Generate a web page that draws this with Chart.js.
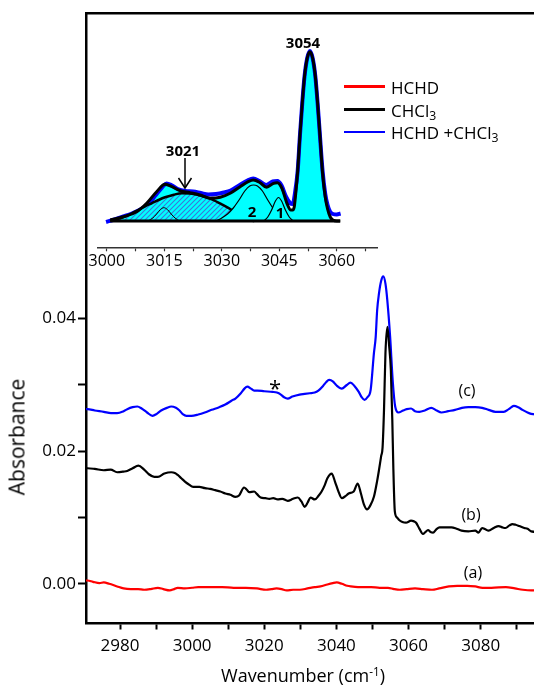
<!DOCTYPE html>
<html><head><meta charset="utf-8">
<script src="https://cdn.jsdelivr.net/npm/chart.js@4.4.0/dist/chart.umd.min.js"></script>
<style>
html,body{margin:0;padding:0;overflow:hidden;background:#fff;width:534px;height:687px;}
#wrap{position:relative;width:534px;height:687px;overflow:hidden;}
canvas{position:absolute;left:0;top:0;}
.t{position:absolute;font-family:'Open Sans',sans-serif;color:#000;white-space:nowrap;line-height:1;transform:translate(-50%,-50%);}
.lg{position:absolute;height:2.5px;width:41px;left:344px;}
.lt{position:absolute;left:391px;font-family:'Open Sans',sans-serif;font-size:17px;line-height:1;transform:translateY(-50%);white-space:nowrap;}
sub{font-size:0.72em;vertical-align:-0.3em;line-height:0;}
</style></head>
<body><div id="wrap">
<canvas id="main" width="540" height="687" style="width:540px;height:687px"></canvas>
<canvas id="inset" width="534" height="687" style="width:534px;height:687px"></canvas>

<div class="t" style="left:17px;top:437px;font-size:21px;transform:translate(-50%,-50%) rotate(-90deg);">Absorbance</div>
<div class="t" style="left:303px;top:675px;font-size:18px;">Wavenumber (cm<sup style="font-size:0.65em;vertical-align:0.55em;line-height:0">-1</sup>)</div>

<div class="t" style="left:467px;top:390px;font-size:16px;">(c)</div>
<div class="t" style="left:471px;top:514px;font-size:16px;">(b)</div>
<div class="t" style="left:473px;top:572px;font-size:16px;">(a)</div>
<div class="t" style="left:275px;top:387px;font-size:22px;">*</div>

<div class="lg" style="top:85px;background:#ff0000"></div>
<div class="lg" style="top:108px;background:#000"></div>
<div class="lg" style="top:130.5px;background:#0000ff"></div>
<div class="lt" style="top:87px">HCHD</div>
<div class="lt" style="top:110px">CHCl<sub>3</sub></div>
<div class="lt" style="top:132px">HCHD +CHCl<sub>3</sub></div>

<div class="t" style="left:303px;top:42px;font-size:15px;font-weight:700;">3054</div>
<div class="t" style="left:183px;top:150px;font-size:15px;font-weight:700;">3021</div>
<div class="t" style="left:252px;top:211px;font-size:15px;font-weight:700;">2</div>
<div class="t" style="left:280px;top:212px;font-size:15px;font-weight:700;">1</div>
<svg style="position:absolute;left:175px;top:155px" width="20" height="40"><line x1="10" y1="3" x2="10" y2="33" stroke="#000" stroke-width="1.5"/><polyline points="3.5,23 10,33 16.5,23" fill="none" stroke="#000" stroke-width="1.5"/></svg>
</div>
<script>
// ---------- main chart data (wavenumber, absorbance) ----------
const seriesA_HCHD = [[2970.5,.0005],[2971,.0005],[2972.5,.0003],[2974.3,.0001],[2975.5,.0002],[2977,.0000],[2979.2,-.0004],[2981,-.0007],[2983,-.0008],[2985,-.0008],[2986.7,-.0009],[2988.5,-.0008],[2990.5,-.0006],[2992,-.0008],[2993.8,-.0010],[2995,-.0008],[2996,-.0006],[2998,-.0007],[3000,-.0006],[3001.7,-.0005],[3005,-.0005],[3008.3,-.0005],[3011.5,-.0006],[3014.9,-.0006],[3018,-.0007],[3020.5,-.0009],[3022,-.0008],[3023.4,-.0007],[3024.8,-.0008],[3026.2,-.0010],[3028,-.0009],[3029.9,-.0009],[3032,-.0007],[3034,-.0005],[3035.6,-.0004],[3037.5,-.0001],[3039,.0001],[3040.1,.0002],[3041.5,.0000],[3043,-.0003],[3044,-.0004],[3046,-.0005],[3049.6,-.0005],[3052,-.0006],[3054.3,-.0006],[3056,-.0008],[3057.6,-.0009],[3059.5,-.0008],[3061.8,-.0007],[3064,-.0008],[3066.5,-.0009],[3068.5,-.0007],[3071.2,-.0004],[3073.5,-.0003],[3076.3,-.0003],[3078.5,-.0004],[3080.5,-.0006],[3083,-.0006],[3087,-.0005],[3089.5,-.0007],[3091.7,-.0009],[3094,-.0010],[3098.3,-.0010]];
const seriesB_CHCl3 = [[2970.5,.0174],[2971,.0174],[2973,.0173],[2975.5,.0171],[2977.4,.0172],[2979.2,.0168],[2981,.0169],[2982,.0170],[2983.5,.0174],[2985.1,.0178],[2986.7,.0172],[2988,.0165],[2989.5,.0161],[2990.5,.0161],[2992.3,.0166],[2994.2,.0168],[2995.2,.0167],[2996,.0164],[2997,.0159],[2998,.0154],[2999,.0150],[3000.3,.0146],[3002,.0146],[3003.6,.0144],[3005,.0143],[3006.4,.0141],[3007.8,.0139],[3009.2,.0136],[3010.6,.0134],[3012,.0131],[3013,.0133],[3014.4,.0145],[3015.1,.0142],[3015.8,.0138],[3017.2,.0139],[3018,.0135],[3019,.0130],[3020.3,.0129],[3021.4,.0128],[3022.5,.0129],[3023.7,.0127],[3025,.0128],[3026.5,.0125],[3028,.0128],[3029.3,.0130],[3030.3,.0124],[3031.2,.0116],[3032,.0122],[3032.8,.0130],[3034,.0127],[3035.1,.0133],[3035.9,.0139],[3036.8,.0149],[3037.5,.0159],[3038.7,.0166],[3039.6,.0154],[3040.5,.0140],[3041.5,.0129],[3042.5,.0132],[3043.4,.0136],[3044.8,.0139],[3045.9,.0151],[3046.8,.0136],[3047.6,.0120],[3048.5,.0112],[3049.4,.0118],[3050.4,.0131],[3051.3,.0155],[3051.8,.0171],[3052.4,.0192],[3052.8,.0205],[3053.2,.0262],[3053.6,.0347],[3054.15,.0387],[3054.6,.0360],[3055.1,.0322],[3055.5,.0247],[3055.8,.0172],[3056.2,.0109],[3056.8,.0100],[3057.4,.0096],[3058.3,.0093],[3059.3,.0092],[3060.7,.0095],[3061.5,.0094],[3062.1,.0092],[3063,.0083],[3064,.0075],[3064.7,.0078],[3065.4,.0081],[3066.1,.0078],[3066.8,.0077],[3067.7,.0082],[3068.6,.0085],[3070.2,.0085],[3071.9,.0085],[3073.3,.0083],[3074.7,.0080],[3076.6,.0079],[3078.5,.0080],[3079.4,.0077],[3080.4,.0084],[3081.3,.0082],[3082.2,.0080],[3083.6,.0084],[3085,.0087],[3086,.0085],[3086.9,.0084],[3088,.0088],[3088.8,.0090],[3089.7,.0089],[3090.7,.0087],[3092.1,.0084],[3093,.0083],[3094,.0079],[3096,.0078],[3098.3,.0077]];
const seriesC_mix = [[2970.5,.0263],[2971,.0263],[2973,.0261],[2975.5,.0259],[2977.5,.0257],[2979.2,.0257],[2981,.0260],[2982,.0263],[2983.5,.0266],[2984.8,.0267],[2986,.0264],[2987.5,.0258],[2989,.0253],[2990.2,.0256],[2991.4,.0261],[2993,.0265],[2994.2,.0267],[2995.5,.0265],[2996.5,.0261],[2997.5,.0255],[2998.4,.0253],[2999.8,.0253],[3001.7,.0255],[3003.5,.0258],[3005.4,.0262],[3007.5,.0266],[3009.2,.0270],[3011,.0276],[3012,.0279],[3013.5,.0287],[3014.5,.0294],[3015.3,.0297],[3016.3,.0294],[3017.2,.0291],[3018.1,.0291],[3020,.0290],[3022.3,.0289],[3023.5,.0288],[3024.6,.0285],[3025.5,.0281],[3026.5,.0279],[3027.8,.0282],[3029.8,.0285],[3031.2,.0286],[3032.6,.0287],[3034,.0288],[3035,.0291],[3036.3,.0298],[3037.2,.0304],[3038,.0307],[3039,.0305],[3040,.0299],[3041.5,.0294],[3042.8,.0299],[3043.9,.0303],[3045,.0298],[3046.2,.0289],[3047,.0281],[3047.8,.0277],[3048.6,.0281],[3049.5,.0292],[3050.4,.0347],[3050.9,.0372],[3051.3,.0412],[3051.8,.0437],[3052.4,.0456],[3053,.0463],[3053.6,.0452],[3054.1,.0428],[3054.9,.0372],[3055.6,.0307],[3056.3,.0267],[3057.2,.0258],[3058.5,.0261],[3059.5,.0263],[3060.7,.0264],[3061.8,.0260],[3063,.0259],[3064.5,.0261],[3066.3,.0265],[3067.8,.0261],[3069.1,.0258],[3071,.0260],[3072.9,.0262],[3074.8,.0265],[3076.6,.0266],[3078.5,.0266],[3080.4,.0265],[3082.2,.0262],[3084.1,.0259],[3086.4,.0259],[3087.8,.0263],[3089.2,.0268],[3090.4,.0266],[3091.6,.0262],[3093,.0258],[3094,.0256],[3096,.0255],[3098.3,.0253]];
const xTickValues = [2980,2990,3000,3010,3020,3030,3040,3050,3060,3070,3080,3090];
const xTickLabels = ['2980','','3000','','3020','','3040','','3060','','3080',''];
const yTickValues = [0,0.01,0.02,0.03,0.04];
const yTickLabels = ['0.00','','0.02','','0.04'];

// ---------- inset data (wavenumber, relative intensity) ----------
const insetMeasured = [[2999.8,-1],[3002,1.5],[3004.3,4.5],[3006.5,7.5],[3008.5,11],[3010.5,16],[3012.8,26],[3014.6,34.5],[3015.6,37.5],[3016.8,36],[3018.5,32],[3020.5,30],[3022.5,29.5],[3024.5,28],[3026.5,26.5],[3028.5,27],[3030.5,28.5],[3032.3,30.5],[3034.5,35.5],[3036.7,40.5],[3038.2,42.5],[3039.8,40],[3041.6,36],[3043.3,39.5],[3044.5,40],[3045.6,35.5],[3046.8,24],[3047.8,18],[3048.5,17],[3049.1,28],[3049.8,50],[3050.4,86],[3051,118],[3051.6,145],[3052.3,163],[3053,170],[3053.7,163],[3054.4,145],[3055,118],[3055.6,86],[3056.3,50],[3057,27],[3057.6,16],[3058.3,9],[3059,7],[3060,6.5],[3061,7.5]];
const insetEnvelope = [[3000.9,1],[3004.3,4.3],[3007.8,9.3],[3010.4,17.7],[3013,29.3],[3015.2,36.7],[3017,34.3],[3019.1,30.3],[3021.7,28.3],[3024.3,26],[3027,22.7],[3029.6,23.7],[3032.2,27.7],[3034.8,34.3],[3036.9,39.3],[3038.2,41],[3040,38.3],[3041.7,33.7],[3043.5,37.7],[3044.5,38.3],[3045.7,32.7],[3047,17.7],[3048,11],[3048.5,11],[3048.9,14],[3049.3,28],[3049.8,50],[3050.4,86],[3051,118],[3051.6,145],[3052.3,163],[3053,169.3],[3053.7,163],[3054.4,145],[3055,118],[3055.6,86],[3056.3,48],[3057,24],[3057.6,12],[3058.3,4],[3059,1],[3060,0],[3060.9,0]];
const insetBroad3021 = [[3000.9,0],[3003,2.2],[3004.8,4.3],[3006.5,7.5],[3008.2,11],[3010,14.7],[3011.7,17.7],[3013.5,21],[3015.2,23.7],[3017.5,26.3],[3019.6,27.7],[3021.8,27.5],[3023.9,26],[3025.7,24],[3027.4,21.7],[3030,16.7],[3032.6,11],[3034,7],[3035.5,3.5],[3037,1],[3038.5,0]];
const insetSmall3015 = [[3010.8,0],[3012,3],[3013,7],[3014,11.5],[3014.9,13.3],[3015.8,11.5],[3016.8,7],[3017.8,3],[3019,0]];
const insetBand2 = [[3028.5,0],[3030,3],[3031.5,7],[3033,13],[3034.5,21],[3036,30],[3037.3,35],[3038.3,36],[3039.3,35],[3040.6,30],[3042,21],[3043.5,12],[3045,6],[3046.5,2],[3048,0]];
const insetBand1 = [[3041,0],[3042,4],[3043,11],[3044,20],[3044.8,23.5],[3045.6,20],[3046.6,11],[3047.6,4],[3048.6,0]];
const insetBaseline = [[3000.9,0],[3060.9,0]];
const insetTickValues = [3000,3007.5,3015,3022.5,3030,3037.5,3045,3052.5,3060,3067.5];
const insetTickLabels = ['3000','','3015','','3030','','3045','','3060',''];

const pts = arr => arr.map(p => ({x:p[0], y:p[1]}));
const FONT = "'Open Sans', sans-serif";

new Chart(document.getElementById('main'), {
  type:'line',
  data:{datasets:[
    {label:'HCHD', data:pts(seriesA_HCHD), borderColor:'#ff0000'},
    {label:'CHCl3', data:pts(seriesB_CHCl3), borderColor:'#000000'},
    {label:'HCHD +CHCl3', data:pts(seriesC_mix), borderColor:'#0000ff'}
  ]},
  options:{
    responsive:false, animation:false, events:[],
    layout:{padding:{top:13,left:0,right:2,bottom:0}},
    plugins:{legend:{display:false}, tooltip:{enabled:false}},
    elements:{point:{radius:0}, line:{borderWidth:2.2, cubicInterpolationMode:'monotone', fill:false}},
    scales:{
      x:{type:'linear', position:'bottom', min:2970.57, max:3095.9,
        afterFit:s=>{s.height=63.5;},
        afterBuildTicks:s=>{s.ticks=xTickValues.map(v=>({value:v}));},
        ticks:{callback:(v,i)=>xTickLabels[i], font:{family:FONT,size:17}, color:'#000', padding:6, maxRotation:0, autoSkip:false},
        grid:{drawOnChartArea:false, drawTicks:true, tickLength:6, tickWidth:2, tickColor:'#000'},
        border:{display:true, color:'#000', width:2.5}},
      xTop:{type:'linear', position:'top', min:2970.57, max:3095.9,
        afterFit:s=>{s.height=0;},
        ticks:{display:false}, grid:{display:false, drawTicks:false},
        border:{display:true, color:'#000', width:2.5}},
      y:{type:'linear', position:'left', min:-0.00598, max:0.08597,
        afterFit:s=>{s.width=86;},
        afterBuildTicks:s=>{s.ticks=yTickValues.map(v=>({value:v}));},
        ticks:{callback:(v,i)=>yTickLabels[i], font:{family:FONT,size:17}, color:'#000', padding:2},
        grid:{drawOnChartArea:false, drawTicks:true, tickLength:8, tickWidth:2, tickColor:'#000'},
        border:{display:true, color:'#000', width:2.5}}
    }
  }
});

function hatchPattern(){
  const c=document.createElement('canvas'); c.width=5; c.height=5;
  const g=c.getContext('2d');
  g.fillStyle='#00ffff'; g.fillRect(0,0,5,5);
  g.strokeStyle='#3a78d8'; g.lineWidth=1.1;
  g.beginPath(); g.moveTo(0,5); g.lineTo(5,0); g.moveTo(-1,1); g.lineTo(1,-1); g.moveTo(4,6); g.lineTo(6,4); g.stroke();
  return g.createPattern(c,'repeat');
}
const CYAN='#00ffff';
new Chart(document.getElementById('inset'), {
  type:'line',
  data:{datasets:[
    {label:'baseline', data:pts(insetBaseline), borderColor:'#000', borderWidth:3, order:0},
    {label:'fit envelope', data:pts(insetEnvelope), borderColor:'#000', borderWidth:3, order:1},
    {label:'band 1', data:pts(insetBand1), borderColor:'#000', borderWidth:1.2, fill:'origin', backgroundColor:CYAN, order:2},
    {label:'band 2', data:pts(insetBand2), borderColor:'#000', borderWidth:1.2, fill:'origin', backgroundColor:CYAN, order:3},
    {label:'band 3015', data:pts(insetSmall3015), borderColor:'#000', borderWidth:1, order:4},
    {label:'band 3021', data:pts(insetBroad3021), borderColor:'#000', borderWidth:2.5, fill:'origin', backgroundColor:hatchPattern(), order:5},
    {label:'measured', data:pts(insetMeasured), borderColor:'#0000ff', borderWidth:4, order:6},
    {label:'envelope fill', data:pts(insetEnvelope), borderWidth:0, borderColor:'rgba(0,0,0,0)', fill:'origin', backgroundColor:CYAN, order:7}
  ]},
  options:{
    responsive:false, animation:false, events:[],
    layout:{padding:{left:98, right:157, top:30, bottom:409.7}},
    plugins:{legend:{display:false}, tooltip:{enabled:false}},
    elements:{point:{radius:0}, line:{cubicInterpolationMode:'monotone', fill:false}},
    scales:{
      x:{type:'linear', min:2997.7, max:3070.5,
        afterFit:s=>{s.height=30;},
        afterBuildTicks:s=>{s.ticks=insetTickValues.map(v=>({value:v}));},
        ticks:{callback:(v,i)=>insetTickLabels[i], font:{family:FONT,size:16}, color:'#000', padding:1, maxRotation:0, autoSkip:false},
        grid:{drawOnChartArea:false, drawTicks:true, tickLength:4, tickWidth:1.2, tickColor:'#333'},
        border:{display:true, color:'#333', width:1.5}},
      y:{type:'linear', display:false, min:-26.3, max:191}
    }
  }
});
</script>
</body></html>
